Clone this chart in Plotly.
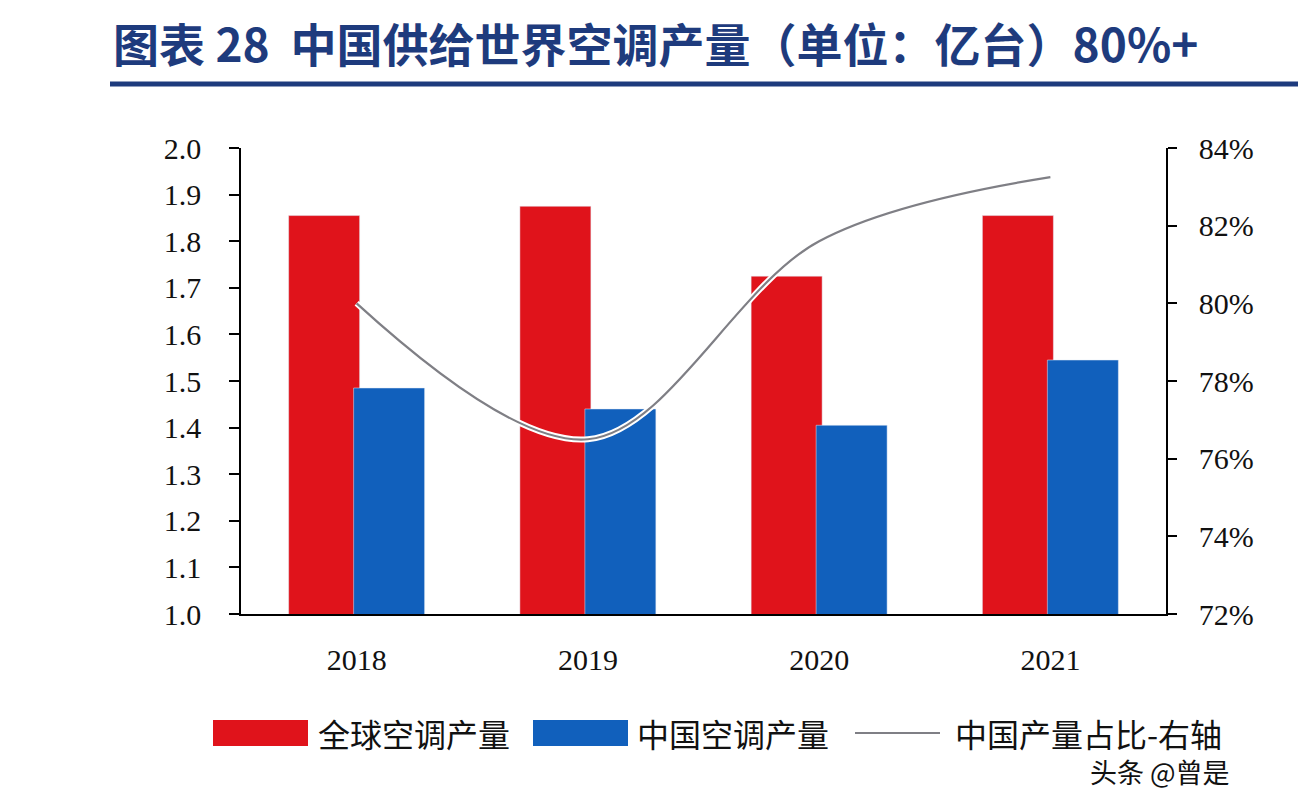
import plotly.graph_objects as go

years = ["2018", "2019", "2020", "2021"]
global_ac = [1.855, 1.875, 1.725, 1.855]
china_ac = [1.485, 1.44, 1.405, 1.545]
china_share = [0.800, 0.765, 0.816, 0.8325]

left_ticks = [1.0, 1.1, 1.2, 1.3, 1.4, 1.5, 1.6, 1.7, 1.8, 1.9, 2.0]
right_ticks = [0.72, 0.74, 0.76, 0.78, 0.80, 0.82, 0.84]

title_text = "图表 28  中国供给世界空调产量（单位：亿台）80%+"
legend_names = ["全球空调产量", "中国空调产量", "中国产量占比-右轴"]

RED = "#E0131B"
BLUE = "#1160BC"
GRAY = "#7F7F85"
NAVY = "#1E3B7D"

OFF = 8  # page body margin
W, H = 1306 - OFF, 792 - OFF
L, T = 241 - OFF, 148 - OFF
PW, PH = 925, 466
R = W - L - PW
B = H - T - PH

def px(x):  # screen px -> paper
    return (x - 241) / PW

def py(y):
    return (614 - y) / PH

fig = go.Figure()
fig.add_trace(go.Bar(x=years, y=global_ac, marker_color=RED, width=0.307, offset=-0.294,
                     name=legend_names[0], showlegend=False))
fig.add_trace(go.Bar(x=years, y=china_ac, marker_color=BLUE, width=0.307, offset=-0.013,
                     name=legend_names[1], showlegend=False))
fig.add_trace(go.Scatter(x=years, y=china_share, yaxis="y2", mode="lines",
                         line=dict(color="white", width=6, shape="spline", smoothing=1.0),
                         showlegend=False, hoverinfo="skip"))
fig.add_trace(go.Scatter(x=years, y=china_share, yaxis="y2", mode="lines",
                         line=dict(color=GRAY, width=2.2, shape="spline", smoothing=1.0),
                         name=legend_names[2], showlegend=False))

tickfont = dict(family="Liberation Serif", size=30, color="#111111")

fig.update_layout(
    width=W, height=H,
    margin=dict(l=L, r=R, t=T, b=B),
    paper_bgcolor="white", plot_bgcolor="white",
    barmode="overlay",
    xaxis=dict(type="category", range=[-0.5, 3.5], showgrid=False, showline=True,
               linecolor="black", linewidth=1.5, ticks="", tickfont=tickfont,
               ticklabelstandoff=18, zeroline=False),
    yaxis=dict(range=[1.0, 2.0], tickvals=left_ticks, tickformat=".1f", showgrid=False,
               showline=True, linecolor="black", linewidth=1.5, ticks="outside",
               ticklen=10, tickwidth=1.5, tickcolor="black", tickfont=tickfont,
               ticklabelstandoff=22, zeroline=False),
    yaxis2=dict(range=[0.72, 0.84], tickvals=right_ticks, tickformat=".0%", overlaying="y",
                side="right", showgrid=False, showline=True, linecolor="black", linewidth=1.5,
                ticks="outside", ticklen=9, tickwidth=1.5, tickcolor="black",
                tickfont=tickfont, ticklabelstandoff=16, zeroline=False),
    title=dict(text=title_text, x=(113 - OFF) / W, xanchor="left", xref="container",
               y=1 - (46 - OFF) / H, yanchor="middle", yref="container",
               font=dict(family="Noto Sans CJK SC", size=46, color=NAVY, weight="bold")),
    showlegend=False,
)

shapes = [
    dict(type="line", xref="paper", yref="paper", x0=px(110), x1=px(1306),
         y0=py(84), y1=py(84), line=dict(color=NAVY, width=5)),
    dict(type="rect", xref="paper", yref="paper", x0=px(213), x1=px(308),
         y0=py(746), y1=py(720), fillcolor=RED, line=dict(width=0)),
    dict(type="rect", xref="paper", yref="paper", x0=px(533), x1=px(628),
         y0=py(746), y1=py(720), fillcolor=BLUE, line=dict(width=0)),
    dict(type="line", xref="paper", yref="paper", x0=px(855), x1=px(940),
         y0=py(733), y1=py(733), line=dict(color=GRAY, width=2.2)),
]
fig.update_layout(shapes=shapes)

legfont = dict(family="Noto Sans CJK SC", size=32, color="#111111")
for xx, name in zip([316, 635, 953], legend_names):
    fig.add_annotation(x=px(xx), y=py(733), xref="paper", yref="paper", text=name,
                       showarrow=False, xanchor="left", yanchor="middle", font=legfont)

fig.add_annotation(x=px(1088), y=py(771), xref="paper", yref="paper", text="头条 @曾是",
                   showarrow=False, xanchor="left", yanchor="middle",
                   font=dict(family="Noto Sans CJK SC", size=27, color="#111111"))

fig.write_html("out.html")
